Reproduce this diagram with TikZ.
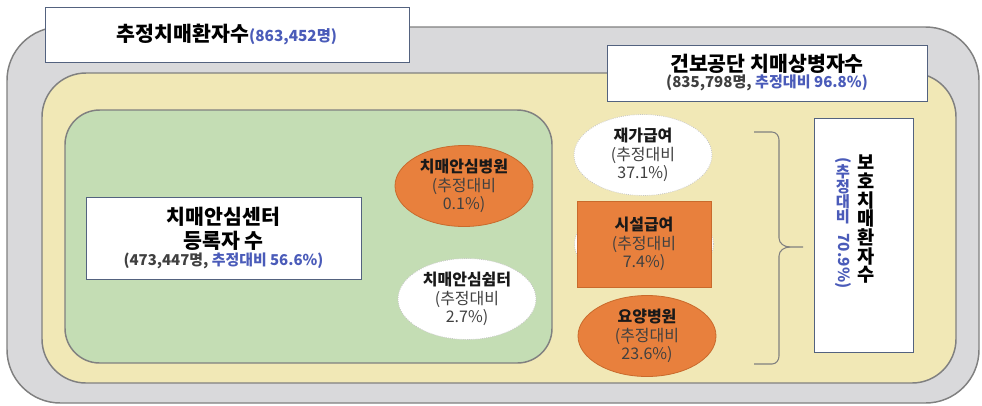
\documentclass[tikz,border=0pt]{standalone}
\usepackage{fontspec}
\setmainfont{Noto Sans CJK KR}
\usepackage{graphicx}
\usepackage{xcolor}
\usetikzlibrary{shapes.geometric,positioning}

\definecolor{outergray}{HTML}{D9D9DB}
\definecolor{edgegray}{HTML}{808080}
\definecolor{paleyellow}{HTML}{F1E8B6}
\definecolor{palegreen}{HTML}{C4DDB4}
\definecolor{carrot}{HTML}{E8803D}
\definecolor{carrotedge}{HTML}{C96A2C}
\definecolor{ratioblue}{HTML}{4A5BB9}
\definecolor{numgray}{HTML}{404040}
\definecolor{boxedge}{HTML}{53627F}

\newcommand{\ratio}[1]{\textcolor{ratioblue}{#1}}
\newcommand{\heading}[1]{\textbf{\textcolor{black!90}{#1}}}

\begin{document}
\begin{tikzpicture}[x=0.75pt,y=-0.75pt,
	labelbox/.style={draw=boxedge,line width=0.75pt,fill=white,inner sep=0pt,outer sep=0pt,align=center},
	oval/.style={ellipse,minimum width=103.5pt,minimum height=60.75pt,inner sep=0pt,align=center,
		text=numgray,font=\fontsize{12}{13.9}\selectfont},
	whiteoval/.style={oval,fill=white,draw=gray!45,densely dotted,line width=0.6pt},
	orangeoval/.style={oval,fill=carrot,draw=carrotedge,line width=0.6pt},
	region/.style={draw=edgegray,line width=1.1pt}]
	\useasboundingbox (0,0) rectangle (982,405);
	
	% nested population areas
	\draw[region,fill=outergray,rounded corners=40pt] (7,27) rectangle (979,403);
	\draw[region,fill=paleyellow,rounded corners=33pt] (42,73) rectangle (956,383);
	\draw[region,fill=palegreen,rounded corners=26pt] (65,110) rectangle (552,363);
	
	% title boxes
	\node[labelbox,minimum width=273pt,minimum height=41.25pt] (estimate) at (227,34.5)
		{\fontsize{15.4}{18}\selectfont\bfseries 추정치매환자수\fontsize{11.5}{13}\selectfont\ratio{(863,452명)}};
	\node[labelbox,minimum width=240pt,minimum height=42pt] (nhis) at (767,73)
		{\fontsize{15.4}{18}\selectfont\bfseries 건보공단 치매상병자수\\
		 \fontsize{11.3}{14}\selectfont\bfseries\textcolor{numgray}{(835,798명,} \ratio{추정대비 96.8\%)}};
	\node[labelbox,minimum width=206.25pt,minimum height=61.5pt] (center) at (223.5,238)
		{\fontsize{15.4}{18}\selectfont\bfseries 치매안심센터\\[2.5pt]
		 \fontsize{15.4}{18}\selectfont\bfseries 등록자 수\\[0.5pt]
		 \fontsize{11.2}{17}\selectfont\bfseries\textcolor{numgray}{(473,447명,} \ratio{추정대비 56.6\%)}};
	
	% dementia care facilities
	\node[orangeoval] (hospital) at (464,186) {\heading{치매안심병원}\\(추정대비\\0.1\%)};
	\node[whiteoval] (shelter) at (467,299) {\heading{치매안심쉼터}\\(추정대비\\2.7\%)};
	
	% long-term care
	\node[whiteoval] (homecare) at (643,155) {\heading{재가급여}\\(추정대비\\37.1\%)};
	\draw[fill=white,draw=gray!45,densely dotted,line width=0.6pt] (644,244) ellipse [x radius=69.5,y radius=41];
	\node[rectangle,fill=carrot,draw=carrotedge,line width=0.6pt,minimum width=100.5pt,minimum height=64.5pt,
		inner sep=0pt,align=center,text=numgray,font=\fontsize{12}{13.9}\selectfont] (facility) at (644,244)
		{\heading{시설급여}\\(추정대비\\7.4\%)};
	\node[orangeoval] (nursing) at (647,336) {\heading{요양병원}\\(추정대비\\23.6\%)};
	
	% brace
	\draw[edgegray,line width=0.8pt] (754,132) -- (772,132) to[out=0,in=90] (779,140) -- (779,238)
		to[out=-90,in=180] (790,247) -- (803,247);
	\draw[edgegray,line width=0.8pt] (790,247) to[out=180,in=90] (779,256) -- (779,356)
		to[out=-90,in=0] (772,364) -- (754,364);
	
	% protected patients
	\node[labelbox,minimum width=74.25pt,minimum height=175.5pt] (protected) at (863.5,235) {};
	\node[font=\fontsize{14}{14}\selectfont\bfseries,align=center,inner sep=0pt,anchor=north] (protname)
		at (866,155) {보\\호\\치\\매\\환\\자\\수};
	\node[text=ratioblue,font=\fontsize{11.5}{11.25}\selectfont\bfseries,align=center,inner sep=0pt,anchor=north] (protratio)
		at (843,157) {\rotatebox{-90}{(}\\추\\정\\대\\비\\[-3pt]\rotatebox{-90}{70.9\%)}};
\end{tikzpicture}
\end{document}
